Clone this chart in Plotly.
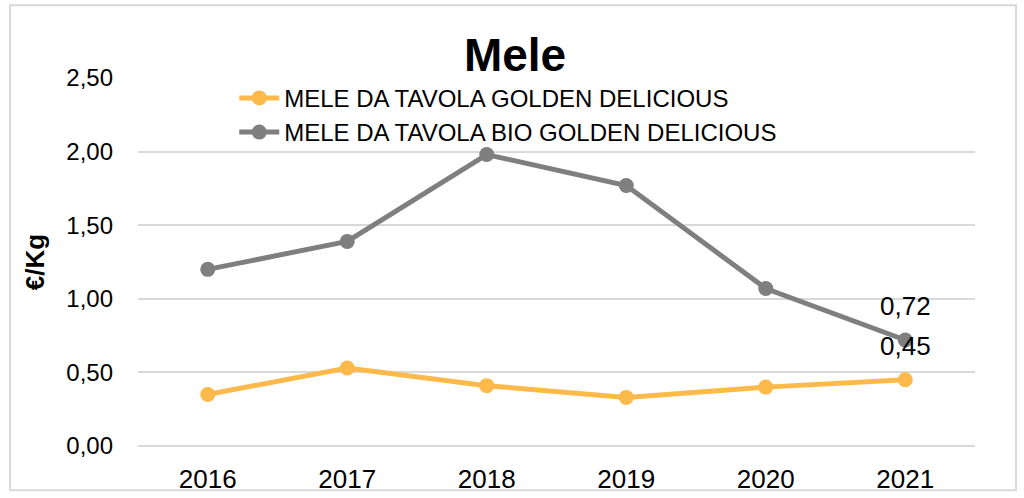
import plotly.graph_objects as go

years = ["2016", "2017", "2018", "2019", "2020", "2021"]
golden = [0.35, 0.53, 0.41, 0.33, 0.40, 0.45]
golden_bio = [1.20, 1.39, 1.98, 1.77, 1.07, 0.72]
series_names = ["MELE DA TAVOLA GOLDEN DELICIOUS", "MELE DA TAVOLA BIO GOLDEN DELICIOUS"]
colors = ["#FDB94A", "#7F7F7F"]
y_ticks = [0, 0.5, 1.0, 1.5, 2.0, 2.5]

fig = go.Figure()
for name, vals, col in zip(series_names, [golden, golden_bio], colors):
    fig.add_trace(go.Scatter(
        x=years, y=vals, name=name, mode="lines+markers",
        line=dict(color=col, width=5), marker=dict(color=col, size=15),
    ))

# data labels on last point (category index of last year)
last = len(years) - 1
for vals in [golden_bio, golden]:
    fig.add_annotation(x=last, y=vals[last], text=f"{vals[last]:.2f}".replace(".", ","),
                       showarrow=False, yshift=34, font=dict(size=26, color="#000000"))

fig.add_shape(type="rect", xref="paper", yref="paper", x0=-0.153, x1=1.049, y0=-0.12, y1=1.198,
              line=dict(color="#D9D9D9", width=2), layer="below")

fig.update_layout(
    width=1024, height=498,
    margin=dict(l=138, r=49, t=78, b=52, autoexpand=False),
    paper_bgcolor="white", plot_bgcolor="white",
    separators=",.",
    font=dict(family="Liberation Sans, Arial, sans-serif", color="#000000"),
    title=dict(text="<b>Mele</b>", x=0.503, xanchor="center", xref="container", y=0.89, yanchor="middle",
               font=dict(size=46, color="#000000")),
    showlegend=True,
    legend=dict(x=0.115, y=1.006, xanchor="left", yanchor="top", font=dict(size=24),
                bgcolor="rgba(0,0,0,0)", tracegroupgap=0, itemwidth=40),
    xaxis=dict(type="category", range=[-0.5, 5.5], showgrid=False, showline=False, automargin=False,
               tickfont=dict(size=26), ticks="", ticklabelstandoff=15),
    yaxis=dict(range=[0, 2.5], tickvals=y_ticks, tickformat=".2f", showgrid=True, automargin=False,
               gridcolor="#D9D9D9", gridwidth=1.5, zeroline=True, zerolinecolor="#D9D9D9",
               zerolinewidth=1.5, tickfont=dict(size=24), ticks="", ticklabelstandoff=24,
               title=dict(text="<b>€/Kg</b>", font=dict(size=26), standoff=14)),
)

fig.write_html("out.html", config={"displayModeBar": False},
               post_script="document.body.style.margin='0';")
